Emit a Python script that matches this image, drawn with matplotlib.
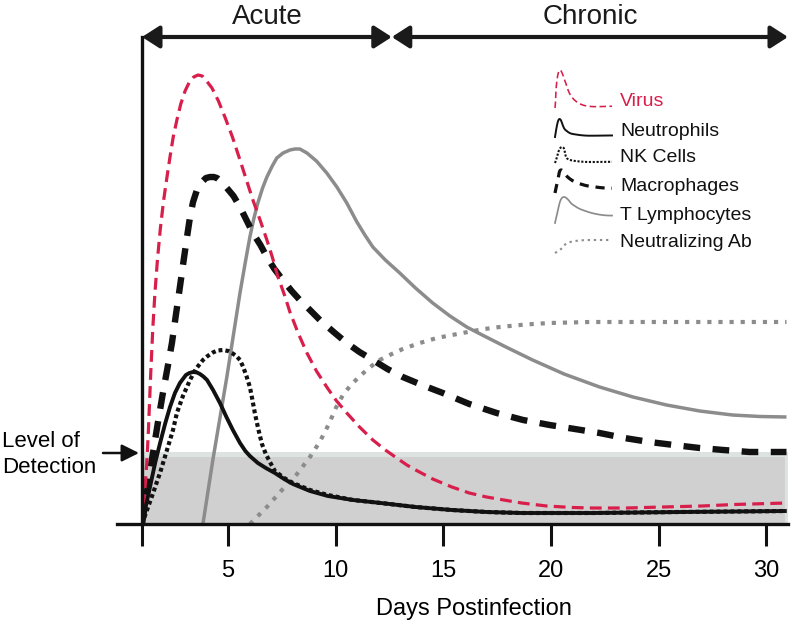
import matplotlib
matplotlib.use('Agg')
import matplotlib.pyplot as plt
from matplotlib.transforms import blended_transform_factory

plt.rcParams['font.family'] = ['Liberation Sans', 'DejaVu Sans']
plt.rcParams['lines.scale_dashes'] = False

# relative levels (0 = x axis, 487 = top of y axis)
virus_days = [1.0, 1.05, 1.1, 1.17, 1.23, 1.3, 1.4, 1.5, 1.6, 1.72, 1.85, 2.0, 2.16, 2.3,
              2.45, 2.62, 2.8, 3.0, 3.2, 3.4, 3.6, 3.8, 4.0, 4.25, 4.55, 4.85, 5.2, 5.55,
              5.85, 6.15, 6.5, 6.8, 7.05, 7.3, 7.6, 7.87, 8.25, 8.66, 9.1, 9.58, 10.0,
              10.51, 11.1, 11.72, 12.3, 12.83, 13.3, 13.71, 14.5, 15.39, 16.2, 17.0, 17.8,
              18.63, 19.79, 21.0, 21.93, 23.5, 25.18, 27.0, 28.5, 30.93]
virus_level = [0, 10, 25, 45, 64, 95, 148, 195, 231, 265, 295, 323, 347, 367,
               387, 404, 420, 433, 442, 447, 449, 448, 443, 436, 423, 407, 387, 364,
               344, 324, 303, 284, 267, 248, 230, 212, 191, 171, 153, 137, 124,
               111, 97, 84, 74, 66, 59, 54, 45, 37, 31, 27, 24,
               21, 18, 16.5, 16, 16, 17, 18, 19.5, 21]

neutro_days = [1.0, 1.2, 1.4, 1.62, 1.84, 2.07, 2.3, 2.53, 2.76, 3.04, 3.2, 3.37, 3.55,
               3.69, 3.85, 4.02, 4.3, 4.62, 4.92, 5.22, 5.55, 5.8, 6.01, 6.38, 6.75, 7.17,
               7.6, 8.01, 8.8, 9.63, 10.8, 12.09, 13.7, 15.39, 17.0, 18.63, 21.93, 26.0,
               30.93]
neutro_level = [0, 20, 40, 62, 81, 100, 117, 131, 141, 149, 151, 152, 151.5,
                150, 147.5, 144, 134, 121, 107, 94, 81, 73, 68, 61, 56, 51,
                45, 40, 33, 28, 24, 21, 17, 14, 12, 11, 11, 12,
                13]

nk_days = [1.0, 1.5, 1.85, 2.16, 2.44, 2.62, 2.9, 3.23, 3.5, 3.83, 4.05, 4.29, 4.5, 4.76,
           5.0, 5.18, 5.38, 5.55, 5.7, 5.85, 6.01, 6.12, 6.24, 6.4, 6.57, 6.75, 6.94, 7.17,
           7.6, 8.01, 8.8, 9.63, 10.8, 12.09, 13.7, 15.39, 17.0, 18.63, 21.93, 26.0, 30.93]
nk_level = [0, 30, 52, 74, 94, 111, 128, 144, 155, 164, 168, 171.5, 173.5, 174,
            173, 171, 168, 164, 157, 148, 137, 125, 111, 95, 80, 70, 62, 53,
            46, 41, 34, 29, 24, 21, 17, 14, 12, 11, 11, 12, 13]

macro_days = [1.0, 1.25, 1.51, 1.75, 1.97, 2.2, 2.39, 2.58, 2.76, 2.93, 3.09, 3.23, 3.37,
              3.55, 3.78, 3.97, 4.16, 4.33, 4.48, 4.7, 4.94, 5.25, 5.55, 5.85, 6.15, 6.5,
              6.8, 7.15, 7.54, 7.95, 8.33, 8.8, 9.26, 9.9, 10.51, 11.1, 11.72, 12.4, 13.11,
              14.0, 14.97, 16.2, 17.47, 18.7, 19.93, 21.1, 22.25, 23.4, 24.57, 25.7, 26.89,
              28.0, 29.21, 30.93]
macro_level = [0, 35, 71, 103, 131, 158, 181, 210, 237, 263, 287, 307, 322,
               334, 342, 346, 347, 347, 346, 342, 336, 328, 317, 304, 291, 279,
               267, 255, 244, 233, 224, 214, 204, 192, 181, 172, 164, 155, 147,
               139, 131, 120, 111, 104, 99, 95, 91, 86, 82, 79, 76,
               74, 72, 72]

tcell_days = [3.83, 4.29, 4.94, 5.55, 5.8, 6.01, 6.2, 6.38, 6.6, 6.8, 7.05, 7.26, 7.55,
              7.87, 8.1, 8.33, 8.66, 9.1, 9.58, 10.05, 10.51, 10.98, 11.35, 11.72, 12.3,
              12.97, 13.7, 14.5, 15.3, 16.08, 16.8, 17.9, 19.14, 20.6, 22.25, 23.8, 25.36,
              26.9, 28.42, 29.7, 30.93]
tcell_level = [0, 64, 147, 231, 262, 287, 306, 321, 336, 347, 358, 366, 371,
               374, 375, 375, 371, 363, 351, 337, 321, 302, 289, 277, 264,
               251, 236, 221, 208, 197, 189, 177, 164, 150, 137, 127, 119,
               113, 109, 107.5, 107]

nab_days = [6.01, 6.8, 7.5, 8.2, 8.8, 9.25, 9.68, 10.0, 10.33, 10.7, 11.12, 11.6, 12.04,
            12.6, 13.11, 13.9, 14.69, 15.4, 16.13, 16.9, 17.61, 18.8, 19.93, 21.8, 23.78,
            30.93]
nab_level = [0, 17, 34, 50, 67, 82, 100, 116, 129, 139, 148, 157, 164,
             170, 175, 181, 186, 189, 192, 195, 197, 199.5, 201, 202, 202,
             202]

detection_level = 72
phase_names = ['Acute', 'Chronic']
phase_edges = [1, 12.6, 31]
x_ticks = [1, 5, 10, 15, 20, 25, 30]
x_tick_labels = ['', '5', '10', '15', '20', '25', '30']

red = '#d81e4b'
grey = '#8c8c8c'
black = '#111111'

series = [
    ('Neutralizing Ab', nab_days, nab_level, dict(color=grey, lw=3.0, dashes=(3, 5), dash_capstyle='butt')),
    ('T Lymphocytes', tcell_days, tcell_level, dict(color=grey, lw=2.5)),
    ('Macrophages', macro_days, macro_level, dict(color=black, lw=4.6, dashes=(12, 9), dash_capstyle='butt')),
    ('Virus', virus_days, virus_level, dict(color=red, lw=2.3, dashes=(8.5, 4.5), dash_capstyle='butt')),
    ('NK Cells', nk_days, nk_level, dict(color=black, lw=3.0, dashes=(2.8, 2.2), dash_capstyle='butt')),
    ('Neutrophils', neutro_days, neutro_level, dict(color=black, lw=2.8)),
]

W, H = 792, 624
fig = plt.figure(figsize=(W / 100, H / 100), dpi=100)


def fx(px):
    return px / W


def fy(py):
    return 1 - py / H


ax = fig.add_axes([fx(142), fy(524), fx(788) - fx(142), fy(37) - fy(524)])
ax.set_xlim(1, 31)
ax.set_ylim(0, 487)

# level of detection band
ax.fill_between([1, 31], 0, detection_level, color='#dde3e0', lw=0, zorder=0)
ax.fill_between([1, 30.85], 0, detection_level - 5, color='#d0d0d0', lw=0, zorder=0)

for name, d, v, style in series:
    ax.plot(d, v, solid_capstyle='butt', solid_joinstyle='round', **style)

for s in ['top', 'right']:
    ax.spines[s].set_visible(False)
for s in ['left', 'bottom']:
    ax.spines[s].set_linewidth(2.4)
    ax.spines[s].set_color(black)
ax.spines['bottom'].set_bounds(1 - 25 / 21.53, 31)

ax.set_yticks([])
ax.set_xticks(x_ticks)
ax.set_xticklabels(x_tick_labels)
ax.tick_params(axis='x', direction='out', length=16, width=2.2, pad=10,
               labelsize=17, color=black)

# phase arrows along the top
tr = blended_transform_factory(ax.transData, fig.transFigure)
for name, a, b in zip(phase_names, phase_edges[:-1], phase_edges[1:]):
    ax.annotate('', xy=(a, 487), xytext=(b, 487), annotation_clip=False,
                arrowprops=dict(arrowstyle='<|-|>,head_length=0.7,head_width=0.45',
                                color='#1a1a1a', lw=3, shrinkA=0, shrinkB=0,
                                mutation_scale=15))
    ax.text((a + b) / 2, fy(24), name, transform=tr, ha='center', va='baseline',
            fontsize=20, color='#1a1a1a')

# level of detection label
fig.text(fx(2), fy(447), 'Level of', fontsize=16, va='baseline', ha='left')
fig.text(fx(2), fy(473), 'Detection', fontsize=16, va='baseline', ha='left')
ax.annotate('', xy=(fx(139), fy(453)), xytext=(fx(103), fy(453)),
            xycoords='figure fraction', textcoords='figure fraction',
            arrowprops=dict(arrowstyle='-|>,head_length=0.8,head_width=0.4',
                            color=black, lw=1.8, shrinkA=0, shrinkB=0,
                            mutation_scale=13))

fig.text(fx(474), fy(615), 'Days Postinfection', fontsize=17, ha='center', va='baseline')

# legend: small copies of each curve
legend_rows = {
    'Virus': (102, 70, 108),
    'Neutrophils': (131, 119, 137),
    'NK Cells': (158, 147, 163),
    'Macrophages': (186, 170, 193),
    'T Lymphocytes': (215, 197, 223),
    'Neutralizing Ab': (243, 240, 253),
}
for name, d, v, style in series:
    ty, top, bot = legend_rows[name]
    iax = fig.add_axes([fx(555), fy(bot), fx(612) - fx(555), fy(top) - fy(bot)])
    iax.set_xlim(d[0], d[-1])
    iax.set_ylim(min(v), max(v))
    iax.axis('off')
    st = dict(style)
    st['lw'] = style['lw'] * 0.5
    if 'dashes' in st:
        st['dashes'] = tuple(x * 0.55 for x in style['dashes'])
    iax.plot(d, v, clip_on=False, **st)
    fig.text(fx(620), fy(ty), name, fontsize=14, va='center', ha='left',
             color=red if name == 'Virus' else black)

fig.savefig('out.png', dpi=100)
